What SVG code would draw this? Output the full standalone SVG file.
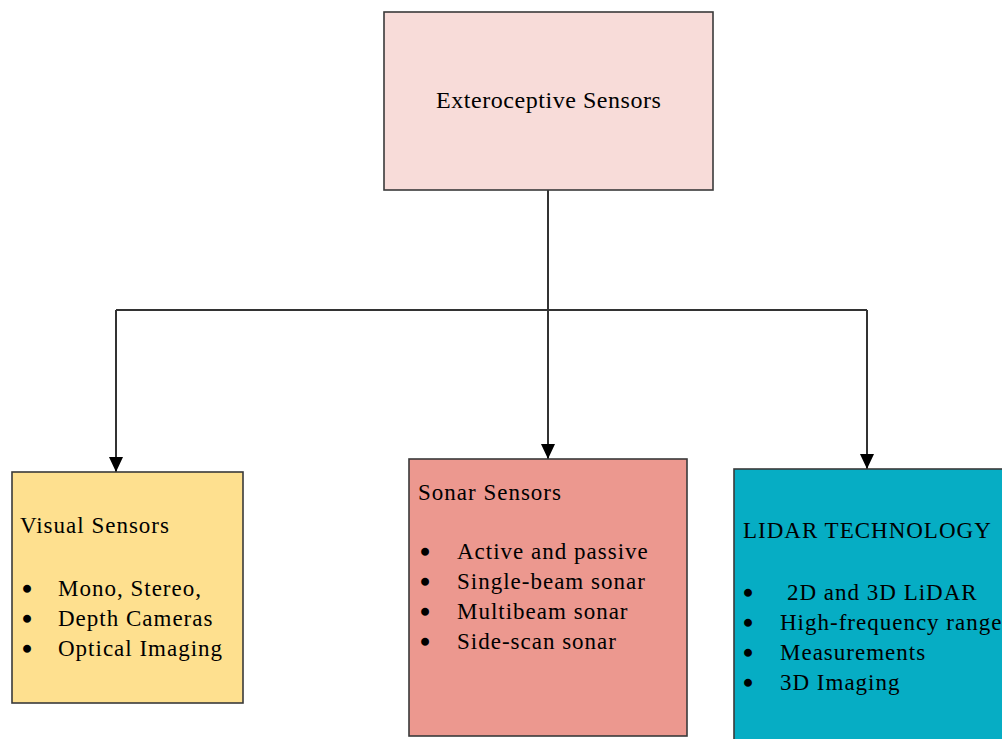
<svg xmlns="http://www.w3.org/2000/svg" width="1002" height="739" viewBox="0 0 1002 739">
  <defs>
    <marker id="arrow" markerWidth="16" markerHeight="14" refX="15" refY="7" orient="auto" markerUnits="userSpaceOnUse" viewBox="0 0 16 14">
      <path d="M0,0 L15,7 L0,14 Z" fill="#000"/>
    </marker>
    <style>
      .box { stroke: #3a3a3a; stroke-width: 1.6; }
      .t { font-family: "Liberation Serif", "Times New Roman", serif; font-size: 23px; letter-spacing: 1px; fill: #000; }
      .title { font-size: 24px; letter-spacing: 0.55px; }
      .b { letter-spacing: 0; stroke: #000; stroke-width: 2.4; stroke-linejoin: round; }
      .conn { fill: none; stroke: #333; stroke-width: 2; }
    </style>
  </defs>
  <rect width="1002" height="739" fill="#fff"/>

  <!-- connectors -->
  <g id="connectors">
    <path class="conn" d="M548,190 V310"/>
    <path class="conn" d="M548,310 V459" marker-end="url(#arrow)"/>
    <path class="conn" d="M116,310 H867"/>
    <path class="conn" d="M116,310 V472" marker-end="url(#arrow)"/>
    <path class="conn" d="M867,310 V469" marker-end="url(#arrow)"/>
  </g>

  <!-- root node -->
  <g id="exteroceptive">
    <rect class="box" x="384" y="12" width="329" height="178" fill="#F8DCD9"/>
    <text class="t title" x="436" y="108">Exteroceptive Sensors</text>
  </g>

  <!-- visual sensors -->
  <g id="visual">
    <rect class="box" x="12" y="472" width="231" height="231" fill="#FEE08F"/>
    <text class="t" x="20" y="533">Visual Sensors</text>
    <text class="t b" x="23" y="597">•</text>
    <text class="t" x="58" y="596">Mono, Stereo,</text>
    <text class="t b" x="23" y="627">•</text>
    <text class="t" x="58" y="626">Depth Cameras</text>
    <text class="t b" x="23" y="657">•</text>
    <text class="t" x="58" y="656">Optical Imaging</text>
  </g>

  <!-- sonar sensors -->
  <g id="sonar">
    <rect class="box" x="409" y="459" width="278" height="277" fill="#EC988F"/>
    <text class="t" x="418" y="500">Sonar Sensors</text>
    <text class="t b" x="421" y="560">•</text>
    <text class="t" x="457" y="559">Active and passive</text>
    <text class="t b" x="421" y="590">•</text>
    <text class="t" x="457" y="589">Single-beam sonar</text>
    <text class="t b" x="421" y="620">•</text>
    <text class="t" x="457" y="619">Multibeam sonar</text>
    <text class="t b" x="421" y="650">•</text>
    <text class="t" x="457" y="649">Side-scan sonar</text>
  </g>

  <!-- lidar technology -->
  <g id="lidar">
    <rect class="box" x="734" y="469" width="290" height="290" fill="#06ADC4"/>
    <text class="t" x="743" y="538">LIDAR TECHNOLOGY</text>
    <text class="t b" x="744" y="601">•</text>
    <text class="t" x="787" y="600">2D and 3D LiDAR</text>
    <text class="t b" x="744" y="631">•</text>
    <text class="t" x="780" y="630">High-frequency range</text>
    <text class="t b" x="744" y="661">•</text>
    <text class="t" x="780" y="660">Measurements</text>
    <text class="t b" x="744" y="691">•</text>
    <text class="t" x="780" y="690">3D Imaging</text>
  </g>
</svg>
